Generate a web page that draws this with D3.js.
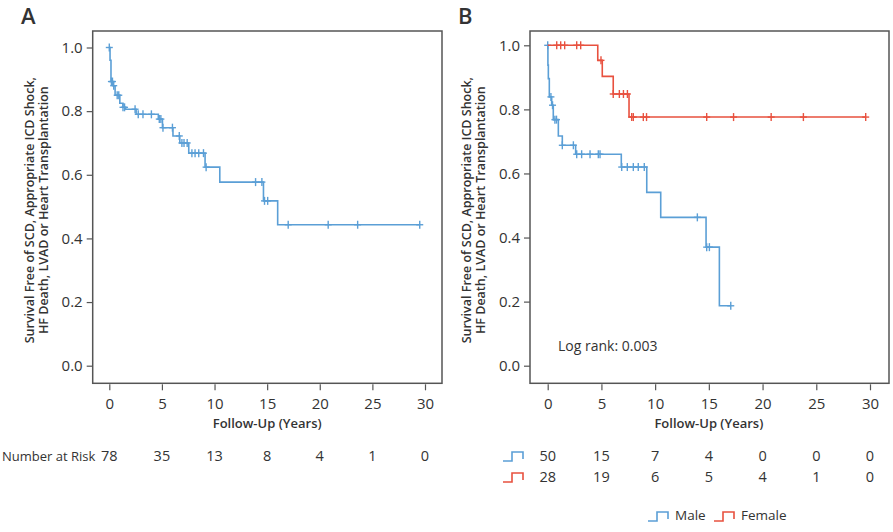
<!DOCTYPE html>
<html><head><meta charset="utf-8">
<script src="https://cdn.jsdelivr.net/npm/d3@7"></script>
<style>
body{margin:0;background:#fff;}
svg{display:block;font-family:"Open Sans","Noto Sans",sans-serif;}
</style></head>
<body><svg id="c" width="893" height="532"></svg>
<script>
// ---------- DATA ----------
const xTicks = [0, 5, 10, 15, 20, 25, 30];
const yTicks = [0.0, 0.2, 0.4, 0.6, 0.8, 1.0];

// Panel A: all patients (step times, survival after step)
const allTimes = [0, 0.07, 0.16, 0.35, 0.55, 1.0, 1.3, 1.55, 2.55, 4.66, 5.05, 6.05, 6.7, 7.55, 9.1, 10.5, 14.65, 16.0];
const allSurv  = [1.0, 0.96, 0.893, 0.88, 0.85, 0.825, 0.812, 0.806, 0.79, 0.775, 0.748, 0.722, 0.70, 0.668, 0.624, 0.577, 0.518, 0.443];
const allEnd = 29.5;
const allCensor = [0, 0.2, 0.3, 0.42, 0.75, 0.9, 1.3, 1.45, 2.45, 2.75, 3.2, 4.0, 4.75, 4.9, 5.1, 6.0, 6.65, 6.9, 7.1, 7.4, 7.85, 8.15, 8.5, 8.95, 9.2, 13.9, 14.5, 14.75, 15.05, 17.0, 20.8, 23.6, 29.5];
const allRisk = [78, 35, 13, 8, 4, 1, 0];

// Panel B: male
const maleTimes = [0, 0.02, 0.06, 0.15, 0.37, 0.52, 0.99, 1.36, 2.6, 6.85, 9.22, 10.52, 14.74, 15.98];
const maleSurv  = [1.0, 0.938, 0.896, 0.839, 0.813, 0.768, 0.717, 0.688, 0.66, 0.62, 0.541, 0.463, 0.37, 0.187];
const maleEnd = 17.04;
const maleCensor = [0, 0.3, 0.45, 0.67, 0.82, 1.36, 2.39, 2.7, 3.16, 3.94, 4.71, 4.87, 6.89, 7.41, 7.97, 8.43, 8.99, 13.93, 14.8, 15.05, 17.04];
const maleRisk = [50, 15, 7, 4, 0, 0, 0];

// Panel B: female
const femaleTimes = [0, 4.66, 5.08, 6.1, 7.57];
const femaleSurv  = [1.0, 0.953, 0.903, 0.848, 0.776];
const femaleEnd = 29.6;
const femaleCensor = [0.84, 1.21, 1.58, 2.7, 3.07, 4.96, 6.1, 6.67, 7.05, 7.42, 7.82, 7.97, 8.9, 9.2, 14.8, 17.3, 20.8, 23.8, 29.6];
const femaleRisk = [28, 19, 6, 5, 4, 1, 0];

const yTitle1 = "Survival Free of SCD, Appropriate ICD Shock,";
const yTitle2 = "HF Death, LVAD or Heart Transplantation";
const xTitle = "Follow-Up (Years)";

// ---------- STYLE ----------
const BLUE = "#5b9fd6", RED = "#e8513f", TXT = "#333", FRAME = "#555";
const svg = d3.select("#c");

function panel(opt) {
  const x = d3.scaleLinear().domain([0, 30]).range([opt.x0, opt.x30]);
  const y = d3.scaleLinear().domain([0, 1]).range([opt.y0, opt.y1]);
  const g = svg.append("g");

  g.append("rect").attr("x", opt.fx0).attr("y", opt.fy0)
    .attr("width", opt.fx1 - opt.fx0).attr("height", opt.fy1 - opt.fy0)
    .attr("fill", "none").attr("stroke", FRAME).attr("stroke-width", 1.5);

  const ya = g.append("g").attr("transform", `translate(${opt.fx0},0)`)
    .call(d3.axisLeft(y).tickValues(yTicks).tickFormat(d3.format(".1f")).tickSize(6).tickPadding(4));
  ya.select(".domain").remove();
  ya.selectAll("line").attr("stroke", FRAME).attr("stroke-width", 1.2);
  ya.selectAll("text").attr("fill", TXT).style("font-size", "15px").style("font-family", "'Open Sans',sans-serif");

  const xa = g.append("g").attr("transform", `translate(0,${opt.fy1 + 1})`)
    .call(d3.axisBottom(x).tickValues(xTicks).tickFormat(d3.format("d")).tickSize(6).tickPadding(8));
  xa.select(".domain").remove();
  xa.selectAll("line").attr("stroke", FRAME).attr("stroke-width", 1.2);
  xa.selectAll("text").attr("fill", TXT).style("font-size", "15px").style("font-family", "'Open Sans',sans-serif");

  g.append("text").attr("x", (opt.x0 + opt.x30) / 2).attr("y", 428)
    .attr("text-anchor", "middle").attr("fill", TXT)
    .style("font-size", "13px").style("font-weight", 600).text(xTitle);

  const cy = (opt.fy0 + opt.fy1) / 2 + 3;
  const yt = g.append("text").attr("transform", `translate(${opt.tx},${cy}) rotate(-90)`)
    .attr("text-anchor", "middle").attr("fill", TXT)
    .style("font-size", "12.5px").style("font-weight", 600);
  yt.append("tspan").attr("x", 0).attr("y", 0).text(yTitle1);
  yt.append("tspan").attr("x", 0).attr("y", 13.5).text(yTitle2);

  g.append("text").attr("x", opt.lx).attr("y", 24).attr("fill", TXT)
    .style("font-size", "22px").style("font-weight", 600).text(opt.label);

  return {x, y, g};
}

function survAt(times, surv, t) {
  let s = surv[0];
  for (let i = 0; i < times.length; i++) if (times[i] <= t) s = surv[i];
  return s;
}

function curve(p, times, surv, end, censor, color) {
  const pts = times.map((t, i) => [t, surv[i]]);
  pts.push([end, surv[surv.length - 1]]);
  const line = d3.line().x(d => p.x(d[0])).y(d => p.y(d[1])).curve(d3.curveStepAfter);
  p.g.append("path").attr("d", line(pts)).attr("fill", "none")
    .attr("stroke", color).attr("stroke-width", 1.6);
  const cg = p.g.append("g").attr("stroke", color).attr("stroke-width", 1.4);
  censor.forEach(t => {
    const cx = p.x(t), cy = p.y(survAt(times, surv, t));
    cg.append("line").attr("x1", cx).attr("x2", cx).attr("y1", cy - 4).attr("y2", cy + 4);
    cg.append("line").attr("x1", cx - 3.5).attr("x2", cx + 3.5).attr("y1", cy).attr("y2", cy);
  });
}

function riskRow(p, vals, yy) {
  vals.forEach((v, i) => {
    p.g.append("text").attr("x", p.x(xTicks[i])).attr("y", yy)
      .attr("text-anchor", "middle").attr("fill", TXT)
      .style("font-size", "14.5px").text(v);
  });
}

function stepIcon(x0, yb, color) {
  svg.append("path").attr("d", `M${x0},${yb} H${x0 + 9} V${yb - 9} H${x0 + 20} V${yb - 2}`)
    .attr("fill", "none").attr("stroke", color).attr("stroke-width", 1.6);
}

// Panel A
const pA = panel({x0: 109.3, x30: 425, y0: 365.7, y1: 47.5, fx0: 92.7, fx1: 442, fy0: 31, fy1: 383.3, tx: 34, lx: 21, label: "A"});
curve(pA, allTimes, allSurv, allEnd, allCensor, BLUE);
svg.append("text").attr("x", 2).attr("y", 461).attr("fill", TXT)
  .style("font-size", "13px").text("Number at Risk");
riskRow(pA, allRisk, 461);

// Panel B
const pB = panel({x0: 547.7, x30: 870, y0: 365.7, y1: 45.3, fx0: 530, fx1: 889, fy0: 31, fy1: 383.3, tx: 471, lx: 458, label: "B"});
curve(pB, maleTimes, maleSurv, maleEnd, maleCensor, BLUE);
curve(pB, femaleTimes, femaleSurv, femaleEnd, femaleCensor, RED);
pB.g.append("text").attr("x", 558).attr("y", 351).attr("fill", TXT)
  .style("font-size", "14px").text("Log rank: 0.003");
riskRow(pB, maleRisk, 461);
riskRow(pB, femaleRisk, 482);
stepIcon(503, 461, BLUE);
stepIcon(503, 482, RED);

stepIcon(648, 521, BLUE);
svg.append("text").attr("x", 675).attr("y", 520).attr("fill", TXT).style("font-size", "13.5px").text("Male");
stepIcon(714, 521, RED);
svg.append("text").attr("x", 741).attr("y", 520).attr("fill", TXT).style("font-size", "13.5px").text("Female");
</script></body></html>
